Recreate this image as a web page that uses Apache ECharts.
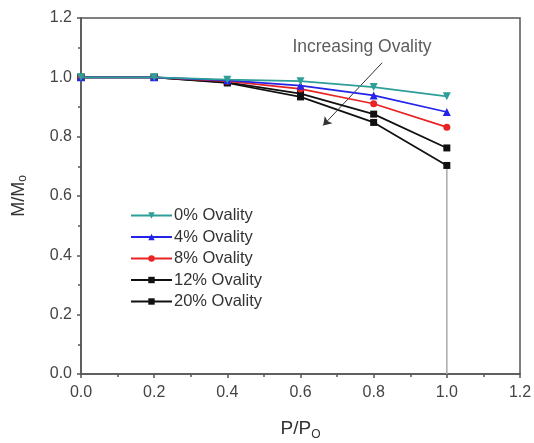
<!DOCTYPE html>
<html><head><meta charset="utf-8">
<script src="https://cdn.jsdelivr.net/npm/echarts@6/dist/echarts.min.js"></script>
<style>html,body{margin:0;padding:0;background:#fff}#c{width:534px;height:443px}</style>
</head><body><div id="c"></div>
<script>
const pRatio = [0.0, 0.2, 0.4, 0.6, 0.8, 1.0];
const oval0  = [1.0, 1.0, 0.992, 0.987, 0.967, 0.936];
const oval4  = [1.0, 1.0, 0.990, 0.972, 0.939, 0.883];
const oval8  = [1.0, 1.0, 0.987, 0.961, 0.911, 0.832];
const oval12 = [1.0, 1.0, 0.983, 0.945, 0.876, 0.762];
const oval20 = [1.0, 1.0, 0.981, 0.934, 0.848, 0.703];
const seriesNames = ['0% Ovality','4% Ovality','8% Ovality','12% Ovality','20% Ovality'];
const dropLineX = [1.0, 1.0];
const dropLineY = [0.0, 0.703];
const arrowStart = [0.823, 1.049];
const arrowEnd = [0.662, 0.838];
const annotation = {text: 'Increasing Ovality', x: 0.768, y: 1.10};

const FONT = 'Liberation Sans, Arial, sans-serif';
const zip = (xs, ys) => xs.map((x, i) => [x, ys[i]]);
const styles = [
  {color:'#2e9e98', symbol:'triangle', rotate:180, size:8},
  {color:'#2424e8', symbol:'triangle', rotate:0, size:8},
  {color:'#e82424', symbol:'circle', rotate:0, size:7},
  {color:'#111111', symbol:'rect', rotate:0, size:7},
  {color:'#111111', symbol:'rect', rotate:0, size:7}
];
const vals = [oval0, oval4, oval8, oval12, oval20];
const order = [4,3,2,1,0];
const lineSeries = order.map(i => ({
  name: seriesNames[i], type: 'line', data: zip(pRatio, vals[i]),
  symbol: styles[i].symbol, symbolRotate: styles[i].rotate, symbolSize: styles[i].size,
  lineStyle: {color: styles[i].color, width: 1.7},
  itemStyle: {color: styles[i].color},
  z: 5 + (4 - i), animation: false
}));

const chart = echarts.init(document.getElementById('c'));
chart.setOption({
  animation: false,
  grid: {left: 81, right: 14, top: 18, bottom: 69, containLabel: false, outerBoundsMode: 'none',
         show: true, borderColor: '#555', borderWidth: 1.5, backgroundColor: 'transparent'},
  xAxis: {
    type: 'value', min: 0, max: 1.2, interval: 0.2,
    name: '{a|P/P}{s|O}', nameLocation: 'middle', nameGap: 43,
    nameTextStyle: {rich: {a: {fontSize: 19, color: '#333', fontFamily: FONT}, s: {fontSize: 12, color: '#333', fontFamily: FONT, verticalAlign: 'bottom', padding: [12,0,0,0]}}},
    axisLine: {show: true, lineStyle: {color: '#555', width: 1.5}},
    axisTick: {show: true, inside: false, length: 4, lineStyle: {color: '#555', width: 1.5}},
    minorTick: {show: true, splitNumber: 2, length: 3, lineStyle: {color: '#555', width: 1.5}},
    splitLine: {show: false},
    axisLabel: {color: '#444', fontSize: 16, fontFamily: FONT, margin: 11, formatter: v => v.toFixed(1)}
  },
  yAxis: {
    type: 'value', min: 0, max: 1.2, interval: 0.2,
    name: '{a|M/M}{s|o}', nameLocation: 'middle', nameGap: 52, nameRotate: 90,
    nameTextStyle: {rich: {a: {fontSize: 18, color: '#333', fontFamily: FONT}, s: {fontSize: 12, color: '#333', fontFamily: FONT, padding: [8,0,0,0]}}},
    axisLine: {show: true, lineStyle: {color: '#555', width: 1.5}},
    axisTick: {show: true, inside: false, length: 4, lineStyle: {color: '#555', width: 1.5}},
    minorTick: {show: true, splitNumber: 2, length: 3, lineStyle: {color: '#555', width: 1.5}},
    splitLine: {show: false},
    axisLabel: {color: '#444', fontSize: 16, fontFamily: FONT, margin: 9, formatter: v => v.toFixed(1)}
  },
  legend: {
    data: seriesNames, orient: 'vertical', left: 125, top: 202,
    itemWidth: 41, itemHeight: 8, itemGap: 4.5,
    textStyle: {fontSize: 16.5, color: '#333', fontFamily: FONT, padding: [0,0,0,-3]}
  },
  series: [
    {
      name: 'drop', type: 'line', data: zip(dropLineX, dropLineY), symbol: 'none',
      lineStyle: {color: '#aaa', width: 1.5}, z: 1, silent: true,
      markLine: {
        silent: true, symbol: ['none', 'arrow'], symbolSize: 8, z: 6,
        lineStyle: {color: '#333', width: 1, type: 'solid'},
        label: {show: false},
        data: [[{coord: arrowStart}, {coord: arrowEnd}]]
      }
    },
    {
      name: 'note', type: 'scatter', data: [[annotation.x, annotation.y]], symbolSize: 0, silent: true,
      label: {show: true, formatter: annotation.text, position: 'inside', fontSize: 17.5, color: '#333', fontFamily: FONT}
    },
    ...lineSeries
  ]
});
</script>
</body></html>
